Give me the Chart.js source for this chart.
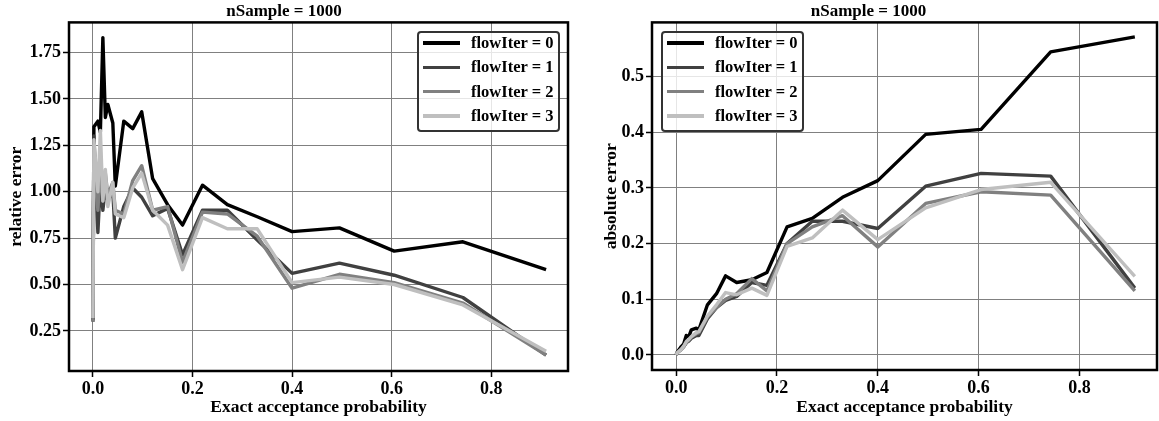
<!DOCTYPE html>
<html>
<head>
<meta charset="utf-8">
<script src="https://cdn.jsdelivr.net/npm/chart.js@4/dist/chart.umd.min.js"></script>
<style>
  body { margin: 0; background: #fff; }
  #wrap { position: relative; width: 1159px; height: 421px; }
  .box { position: absolute; top: 0; height: 421px; }
  .legend {
    position: absolute; box-sizing: border-box;
    border: 2px solid #333; border-radius: 4px;
    background: rgba(255,255,255,0.8);
    font: bold 16.5px "Liberation Serif", serif; color: #000;
    padding-top: 0;
  }
  .legend .row { display: flex; align-items: center; height: 24.3px; }
  .legend .row:first-child { margin-top: -2px; }
  .legend .sw { width: 37px; height: 3.5px; margin-left: 4px; margin-right: 11px; }
</style>
</head>
<body>
<div id="wrap">
  <div class="box" style="left:0;width:580px"><canvas id="relChart"></canvas></div>
  <div class="box" style="left:580px;width:579px"><canvas id="absChart"></canvas></div>
  <div class="legend" id="legL" style="left:417px;top:31px;width:143px;height:101px"></div>
  <div class="legend" id="legR" style="left:661px;top:31px;width:143px;height:101px"></div>
</div>
<script>
// exact acceptance probability (x)
let xProb = [0, 0.002, 0.01, 0.015, 0.02, 0.025, 0.03, 0.04, 0.045, 0.062, 0.08, 0.098, 0.12, 0.15, 0.18, 0.22, 0.27, 0.33, 0.40, 0.495, 0.605, 0.743, 0.91];

let labels = ["flowIter = 0", "flowIter = 1", "flowIter = 2", "flowIter = 3"];
let colors = ["#000000", "#404040", "#808080", "#bfbfbf"];

// relative error
let rel0 = [0.31, 1.35, 1.38, 1.32, 1.83, 1.40, 1.47, 1.37, 1.03, 1.38, 1.34, 1.43, 1.07, 0.93, 0.82, 1.035, 0.93, 0.865, 0.785, 0.805, 0.68, 0.73, 0.58];
let rel1 = [0.30, 1.30, 0.78, 1.05, 0.90, 1.02, 0.95, 1.00, 0.75, 0.92, 1.02, 0.97, 0.87, 0.91, 0.66, 0.90, 0.90, 0.74, 0.56, 0.615, 0.55, 0.43, 0.12];
let rel2 = [0.30, 1.25, 0.90, 1.15, 0.95, 1.10, 0.98, 1.05, 0.90, 0.88, 1.06, 1.14, 0.90, 0.92, 0.62, 0.89, 0.88, 0.76, 0.48, 0.555, 0.51, 0.40, 0.12];
let rel3 = [0.32, 1.28, 1.00, 1.33, 0.95, 1.12, 0.92, 1.05, 0.88, 0.86, 1.02, 1.10, 0.90, 0.82, 0.58, 0.86, 0.80, 0.80, 0.51, 0.54, 0.50, 0.39, 0.14];

// absolute error
let abs0 = [0, 0.005, 0.015, 0.02, 0.035, 0.033, 0.045, 0.048, 0.045, 0.09, 0.11, 0.142, 0.13, 0.135, 0.148, 0.23, 0.245, 0.283, 0.313, 0.396, 0.405, 0.544, 0.571];
let abs1 = [0, 0.004, 0.01, 0.015, 0.022, 0.025, 0.03, 0.035, 0.035, 0.065, 0.085, 0.098, 0.105, 0.13, 0.125, 0.2, 0.24, 0.24, 0.227, 0.303, 0.326, 0.321, 0.12];
let abs2 = [0, 0.004, 0.01, 0.015, 0.022, 0.027, 0.032, 0.038, 0.04, 0.068, 0.085, 0.1, 0.11, 0.137, 0.115, 0.2, 0.23, 0.25, 0.194, 0.272, 0.293, 0.287, 0.115];
let abs3 = [0, 0.004, 0.01, 0.016, 0.024, 0.028, 0.033, 0.04, 0.042, 0.07, 0.09, 0.112, 0.108, 0.12, 0.107, 0.195, 0.21, 0.26, 0.207, 0.264, 0.297, 0.31, 0.141];

let xTicks = [0, 0.2, 0.4, 0.6, 0.8];
let relTicks = [0.25, 0.5, 0.75, 1.0, 1.25, 1.5, 1.75];
let absTicks = [0, 0.1, 0.2, 0.3, 0.4, 0.5];

const serif = "'Liberation Serif', 'Times New Roman', serif";

// thick black frame round the plot area
const frame = {
  id: "frame",
  afterDraw(chart) {
    let a = chart.chartArea, ctx = chart.ctx;
    ctx.save();
    ctx.strokeStyle = "#000";
    ctx.lineWidth = 2.5;
    ctx.strokeRect(a.left, a.top, a.right - a.left, a.bottom - a.top);
    ctx.restore();
  }
};

function makeSets(series) {
  return series.map((s, i) => ({
    label: labels[i],
    data: s.map((v, j) => ({x: xProb[j], y: v})),
    borderColor: colors[i],
    borderWidth: 3.4,
    pointRadius: 0,
    tension: 0,
    borderJoinStyle: "round",
    order: 3 - i
  }));
}

function makeChart(id, series, yTitle, yMin, yMax, yTicks, dec, yWidth, yTitlePad, xHeight, padRight) {
  return new Chart(id, {
    type: "line",
    data: {datasets: makeSets(series)},
    options: {
      responsive: false,
      animation: false,
      layout: {padding: {left: 0, right: padRight, top: 0, bottom: 0}},
      plugins: {
        legend: {display: false},
        tooltip: {enabled: false},
        title: {
          display: true,
          text: "nSample = 1000",
          color: "#000",
          font: {family: serif, size: 17, weight: "bold", lineHeight: 1.2},
          padding: {top: 1, bottom: 1}
        }
      },
      scales: {
        x: {
          type: "linear",
          min: -0.048, max: 0.954,
          afterBuildTicks: s => { s.ticks = xTicks.map(v => ({value: v})); },
          afterFit: s => { s.height = xHeight; },
          grid: {color: "#808080", lineWidth: 1, tickColor: "#000", tickLength: 6, tickWidth: 1.5},
          border: {display: false},
          ticks: {color: "#000", padding: 2, maxRotation: 0, font: {family: serif, size: 18, weight: "bold"},
                  callback: v => v.toFixed(1)},
          title: {display: true, text: "Exact acceptance probability", color: "#000",
                  font: {family: serif, size: 17.5, weight: "bold"}, padding: {top: 0, bottom: 3}}
        },
        y: {
          min: yMin, max: yMax,
          afterBuildTicks: s => { s.ticks = yTicks.map(v => ({value: v})); },
          afterFit: s => { s.width = yWidth; },
          grid: {color: "#808080", lineWidth: 1, tickColor: "#000", tickLength: 6, tickWidth: 1.5},
          border: {display: false},
          ticks: {color: "#000", padding: 2, font: {family: serif, size: 18, weight: "bold"},
                  callback: v => v.toFixed(dec)},
          title: {display: true, text: yTitle, color: "#000",
                  font: {family: serif, size: 17.5, weight: "bold"}, padding: {top: yTitlePad, bottom: 0}}
        }
      }
    },
    plugins: [frame]
  });
}

document.getElementById("relChart").width = 580;
document.getElementById("relChart").height = 421;
document.getElementById("absChart").width = 579;
document.getElementById("absChart").height = 421;

makeChart("relChart", [rel0, rel1, rel2, rel3], "relative error", 0.034, 1.912, relTicks, 2, 69, 6, 50, 12);
makeChart("absChart", [abs0, abs1, abs2, abs3], "absolute error", -0.027, 0.597, absTicks, 1, 72, 21, 51, 2);

function buildLegend(id) {
  let el = document.getElementById(id);
  labels.forEach((l, i) => {
    let row = document.createElement("div");
    row.className = "row";
    let sw = document.createElement("span");
    sw.className = "sw";
    sw.style.background = colors[i];
    let tx = document.createElement("span");
    tx.textContent = l;
    row.appendChild(sw);
    row.appendChild(tx);
    el.appendChild(row);
  });
}
buildLegend("legL");
buildLegend("legR");
</script>
</body>
</html>
